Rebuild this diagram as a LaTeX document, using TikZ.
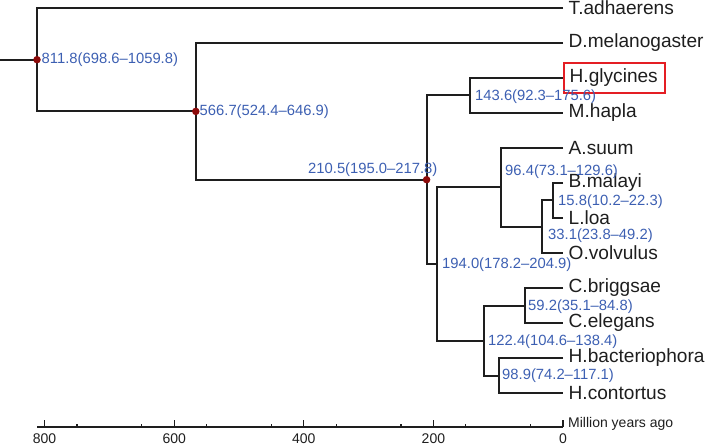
\documentclass[tikz,border=0pt]{standalone}
\usepackage{fontspec}
\setmainfont{Liberation Sans}
\definecolor{treegray}{RGB}{30,30,30}
\definecolor{ageblue}{RGB}{60,95,178}
\definecolor{dotred}{RGB}{140,10,10}
\definecolor{boxred}{RGB}{228,30,36}
\begin{document}
\begin{tikzpicture}[x=1pt,y=-1pt,
  branch/.style={line width=2pt,draw=treegray,line join=miter},
  leaflabel/.style={anchor=west,inner sep=0pt,font=\fontsize{19.1}{19.1}\selectfont,text=treegray},
  agelabel/.style={anchor=west,inner sep=0pt,font=\fontsize{14.8}{14.8}\selectfont,text=ageblue},
  nodedot/.style={circle,fill=dotred,inner sep=0pt,minimum size=7.5pt},
  axisline/.style={line width=1.4pt,draw=treegray},
  axislabel/.style={inner sep=0pt,font=\fontsize{14}{14}\selectfont,text=treegray},
  highlight/.style={draw=boxred,line width=2pt}
]
\useasboundingbox (0,0) rectangle (709,446);

% leaves
\coordinate (tAdh) at (563,8);
\coordinate (dMel) at (563,43);
\coordinate (hGly) at (563,78);
\coordinate (mHap) at (563,113);
\coordinate (aSuu) at (563,148);
\coordinate (bMal) at (563,183);
\coordinate (lLoa) at (563,218);
\coordinate (oVol) at (563,253);
\coordinate (cBri) at (563,288);
\coordinate (cEle) at (563,323);
\coordinate (hBac) at (563,358);
\coordinate (hCon) at (563,393);

% internal nodes
\coordinate (n158) at (552.8,200.5);
\coordinate (n331) at (541.6,226.75);
\coordinate (n964) at (500.5,187.4);
\coordinate (n592) at (524.6,305.5);
\coordinate (n989) at (498.9,375.5);
\coordinate (n1224) at (483.7,340.5);
\coordinate (n1940) at (437.3,263.9);
\coordinate (n1436) at (469.9,95.5);
\coordinate (n2105) at (426.6,179.7);
\coordinate (n5667) at (195.8,111.4);
\coordinate (n8118) at (37.0,59.7);
\coordinate (stem) at (0,59.7);

% branches
\draw[branch] (stem) -- (n8118);
\draw[branch] (tAdh) -| (n8118) |- (n5667);
\draw[branch] (dMel) -| (n5667) |- (n2105);
\draw[branch] (n1436) -| (n2105) |- (n1940);
\draw[branch] (hGly) -| (n1436) |- (mHap);
\draw[branch] (n964) -| (n1940) |- (n1224);
\draw[branch] (aSuu) -| (n964) |- (n331);
\draw[branch] (n158) -| (n331) |- (oVol);
\draw[branch] (bMal) -| (n158) |- (lLoa);
\draw[branch] (n592) -| (n1224) |- (n989);
\draw[branch] (cBri) -| (n592) |- (cEle);
\draw[branch] (hBac) -| (n989) |- (hCon);

% dots
\node[nodedot] (d8118) at (n8118) {};
\node[nodedot] (d5667) at (n5667) {};
\node[nodedot] (d2105) at (n2105) {};

% leaf labels
\node[leaflabel] (lTAdh) at (568.5,8) {T.adhaerens};
\node[leaflabel] (lDMel) at (568.5,43) {D.melanogaster};
\node[leaflabel] (lHGly) at (569.5,78) {H.glycines};
\node[leaflabel] (lMHap) at (568.5,113) {M.hapla};
\node[leaflabel] (lASuu) at (568.5,148) {A.suum};
\node[leaflabel] (lBMal) at (568.5,183) {B.malayi};
\node[leaflabel] (lLLoa) at (568.5,218) {L.loa};
\node[leaflabel] (lOVol) at (568.5,253) {O.volvulus};
\node[leaflabel] (lCBri) at (568.5,288) {C.briggsae};
\node[leaflabel] (lCEle) at (568.5,323) {C.elegans};
\node[leaflabel] (lHBac) at (568.5,358) {H.bacteriophora};
\node[leaflabel] (lHCon) at (568.5,393) {H.contortus};

% highlight box
\draw[highlight] (563.5,63.5) rectangle (665,93);

% age labels
\node[agelabel] (a8118) at (41.5,60) {811.8(698.6–1059.8)};
\node[agelabel] (a5667) at (199.5,112) {566.7(524.4–646.9)};
\node[agelabel] (a2105) at (308,170) {210.5(195.0–217.8)};
\node[agelabel] (a1436) at (475,97) {143.6(92.3–175.6)};
\node[agelabel] (a964) at (505,172) {96.4(73.1–129.6)};
\node[agelabel] (a158) at (558,202) {15.8(10.2–22.3)};
\node[agelabel] (a331) at (548,236) {33.1(23.8–49.2)};
\node[agelabel] (a1940) at (442,265) {194.0(178.2–204.9)};
\node[agelabel] (a592) at (528,307) {59.2(35.1–84.8)};
\node[agelabel] (a1224) at (488,342) {122.4(104.6–138.4)};
\node[agelabel] (a989) at (502,376) {98.9(74.2–117.1)};

% axis
\coordinate (axL) at (37,427);
\coordinate (axR) at (563,427);
\draw[axisline] (axL) -- (axR);
\foreach \t in {50,150,...,750} {
  \draw[axisline,line width=1.1pt] ({563-0.648*\t},427) -- ++(0,-3.5);
}
\foreach \t in {0,200,...,800} {
  \draw[axisline,line width=1.1pt] ({563-0.648*\t},427) -- ++(0,-7);
  \node[axislabel] at ({563-0.648*\t},439) {\t};
}
\node[axislabel,anchor=west] (myaLabel) at (568,424) {Million years ago};
\end{tikzpicture}
\end{document}
